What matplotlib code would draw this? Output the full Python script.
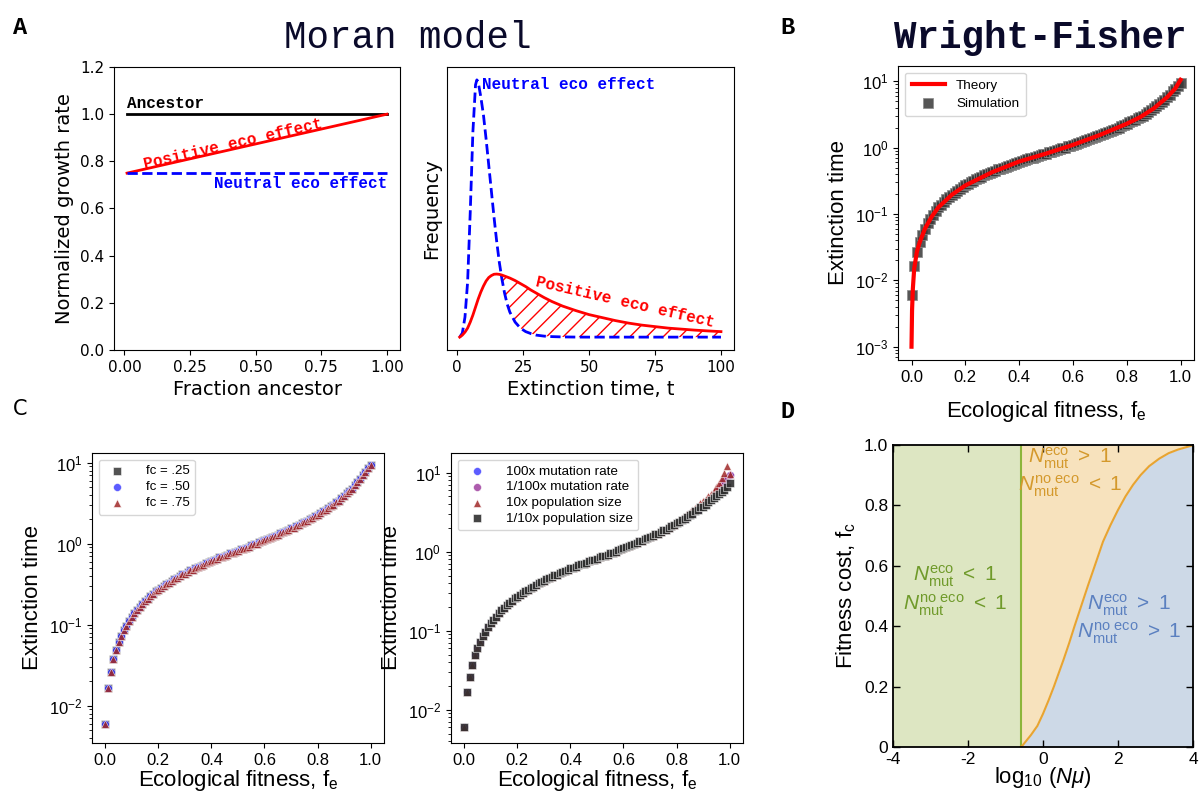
import numpy as np
import matplotlib
matplotlib.use("Agg")
import matplotlib.pyplot as plt

plt.rcParams['font.family'] = 'Liberation Sans'
plt.rcParams['mathtext.fontset'] = 'custom'
plt.rcParams['mathtext.rm'] = 'Liberation Sans'
plt.rcParams['mathtext.it'] = 'Liberation Sans:italic'
plt.rcParams['mathtext.bf'] = 'Liberation Sans:bold'
plt.rcParams['axes.unicode_minus'] = False
plt.rcParams['hatch.linewidth'] = 1.0

MONO = 'Liberation Mono'
DEJ = 'DejaVu Sans'

# ---- panel A, left: growth rate vs fraction ancestor
frac = [0.01, 1.0]
ancestor_rate = [1.0, 1.0]
positive_rate = [0.75, 1.0]
neutral_rate = [0.75, 0.75]

# ---- panel A, right: extinction time distributions
t_ext = [1, 2, 3, 4, 5, 6, 7, 7.5, 8, 9, 10, 11, 12, 13, 14, 15, 16, 17, 18, 19,
         20, 22, 24, 26, 28, 30, 33, 36, 40, 45, 50, 55, 60, 65, 70, 75, 80, 85,
         90, 95, 100]
freq_neutral = [0, 4, 20, 55, 125, 205, 252, 257, 255, 240, 222, 198, 172, 146,
                120, 96, 75, 58, 44, 33, 25, 15, 9, 5.5, 3.5, 2, 1, 0.5, 0.2,
                0.05, 0, 0, 0, 0, 0, 0, 0, 0, 0, 0, 0]
freq_positive = [0, 2, 5, 9, 15, 22, 30, 34, 38, 45, 51, 56, 59.5, 61.5, 62.8,
                 63, 62.7, 62, 61, 60, 59, 56.5, 53.5, 50.5, 47, 44, 39.5, 35.5,
                 31, 26.5, 22.5, 19.5, 16.5, 14, 12, 10.5, 9, 8, 7, 6.2, 5.5]

# ---- panel B: Wright-Fisher theory and simulation
fe_theory = [0.0, 0.002, 0.005, 0.01, 0.02, 0.03, 0.05, 0.075, 0.1, 0.15, 0.2,
             0.3, 0.4, 0.5, 0.6, 0.7, 0.8, 0.85, 0.9, 0.95, 0.98, 1.0]
time_theory = [0.001, 0.0035, 0.0075, 0.015, 0.027, 0.037, 0.06, 0.091, 0.126,
               0.195, 0.269, 0.427, 0.617, 0.813, 1.10, 1.55, 2.29, 2.88, 3.89,
               5.75, 7.76, 10.5]

fe = np.round(np.arange(0, 1.001, 0.01), 2)
ext_time = [
    0.0060, 0.0166, 0.0263, 0.0372, 0.0490, 0.0603, 0.0724, 0.0851, 0.0977, 0.112,
    0.126, 0.138, 0.151, 0.166, 0.182, 0.195, 0.209, 0.224, 0.240, 0.257,
    0.269, 0.282, 0.302, 0.316, 0.331, 0.347, 0.363, 0.380, 0.398, 0.417,
    0.427, 0.447, 0.468, 0.479, 0.501, 0.513, 0.537, 0.550, 0.575, 0.589,
    0.617, 0.631, 0.646, 0.676, 0.692, 0.708, 0.724, 0.759, 0.776, 0.794,
    0.813, 0.851, 0.871, 0.891, 0.912, 0.955, 0.977, 1.00, 1.05, 1.07,
    1.10, 1.15, 1.17, 1.20, 1.26, 1.29, 1.35, 1.38, 1.45, 1.48,
    1.55, 1.58, 1.66, 1.70, 1.78, 1.86, 1.91, 2.00, 2.09, 2.19,
    2.29, 2.40, 2.51, 2.63, 2.75, 2.88, 3.02, 3.24, 3.39, 3.63,
    3.89, 4.17, 4.47, 4.79, 5.25, 5.75, 6.31, 7.08, 7.76, 8.51,
    9.33]

# ---- panel C: varying parameters
big_pop_tail = [2.4, 2.5, 2.7, 2.8, 3.0, 3.2, 3.4, 3.55, 3.8, 4.1, 4.4, 4.7, 5.0,
                5.4, 5.9, 6.6, 7.4, 8.5, 10.0, 12.0, 9.5]          # fe 0.80 .. 1.00
small_pop_tail = [3.7, 3.9, 4.2, 4.5, 4.8, 5.1, 5.4, 5.7, 6.1, 6.6, 7.5]  # fe 0.90 .. 1.00
big_pop = ext_time[:80] + big_pop_tail
small_pop = ext_time[:90] + small_pop_tail

# ---- panel D: phase diagram
log_nmu = [-0.6, -0.54, -0.45, -0.32, -0.15, 0.0, 0.15, 0.29, 0.42, 0.55, 0.7,
           0.84, 1.0, 1.2, 1.38, 1.6, 1.8, 2.0, 2.2, 2.4, 2.6, 2.83, 3.1, 3.35,
           3.6, 3.88, 4.0]
fc_boundary = [0.0, 0.006, 0.02, 0.04, 0.07, 0.11, 0.155, 0.2, 0.245, 0.29,
               0.345, 0.40, 0.46, 0.535, 0.60, 0.68, 0.735, 0.785, 0.83, 0.868,
               0.90, 0.93, 0.955, 0.973, 0.985, 0.995, 1.0]
eco_threshold = -0.6

fig = plt.figure(figsize=(11.99, 7.92), dpi=100)

axA1 = fig.add_axes([0.0951, 0.5581, 0.2385, 0.3573])
axA2 = fig.add_axes([0.3725, 0.5581, 0.2397, 0.3573])
axB = fig.add_axes([0.749, 0.5455, 0.2469, 0.3712])
axC1 = fig.add_axes([0.0767, 0.0619, 0.2435, 0.3662])
axC2 = fig.add_axes([0.3761, 0.0619, 0.2435, 0.3662])
axD = fig.add_axes([0.7448, 0.0568, 0.2502, 0.3813])

# titles and panel letters
fig.text(0.340, 0.952, 'Moran model', family=MONO, fontsize=27, ha='center', va='center', color='#0a0a2a')
fig.text(0.868, 0.952, 'Wright-Fisher', family=MONO, fontsize=27, ha='center', va='center',
         color='#0a0a2a', fontweight='bold')
fig.text(0.017, 0.965, 'A', family=MONO, fontsize=17, fontweight='bold', ha='center', va='center')
fig.text(0.657, 0.965, 'B', family=MONO, fontsize=17, fontweight='bold', ha='center', va='center')
fig.text(0.017, 0.484, 'C', family=DEJ, fontsize=15, ha='center', va='center')
fig.text(0.657, 0.480, 'D', family=MONO, fontsize=17, fontweight='bold', ha='center', va='center')

# ---- A1
ax = axA1
ax.plot(frac, ancestor_rate, color='black', lw=2)
ax.plot(frac, positive_rate, color='red', lw=2)
ax.plot(frac, neutral_rate, color='blue', lw=2, ls='--')
ax.set_ylim(0, 1.2)
ax.set_yticks([0, 0.2, 0.4, 0.6, 0.8, 1.0, 1.2])
ax.set_xticks([0, 0.25, 0.5, 0.75, 1.0])
ax.text(0.01, 1.012, 'Ancestor', family=MONO, fontweight='bold', fontsize=11.5, ha='left', va='bottom')
ax.text(0.415, 0.872, 'Positive eco effect', family=MONO, fontweight='bold', fontsize=11.5,
        color='red', ha='center', va='center', rotation=13, rotation_mode='anchor')
ax.text(1.0, 0.737, 'Neutral eco effect', family=MONO, fontweight='bold', fontsize=11.5,
        color='blue', ha='right', va='top')
ax.set_xlabel('Fraction ancestor', family=DEJ, fontsize=14)
ax.set_ylabel('Normalized growth rate', family=DEJ, fontsize=14)
for lab in ax.get_xticklabels() + ax.get_yticklabels():
    lab.set_family(DEJ)
    lab.set_fontsize(11)

# ---- A2
ax = axA2
ax.plot(t_ext, freq_neutral, color='blue', lw=2, ls='--')
ax.plot(t_ext, freq_positive, color='red', lw=2)
fp = np.array(freq_positive)
fn = np.array(freq_neutral)
ax.fill_between(t_ext, fn, fp, where=fp >= fn, interpolate=True, facecolor='none',
                edgecolor='red', hatch='//', linewidth=0)
ax.set_yticks([])
ax.set_xticks([0, 25, 50, 75, 100])
ax.text(9.5, 252, 'Neutral eco effect', family=MONO, fontweight='bold', fontsize=11.5,
        color='blue', ha='left', va='center')
ax.text(63.5, 35, 'Positive eco effect', family=MONO, fontweight='bold', fontsize=11.5,
        color='red', ha='center', va='center', rotation=-13, rotation_mode='anchor')
ax.set_xlabel('Extinction time, t', family=DEJ, fontsize=14)
ax.set_ylabel('Frequency', family=DEJ, fontsize=14)
for lab in ax.get_xticklabels():
    lab.set_family(DEJ)
    lab.set_fontsize(11)

# ---- B
ax = axB
ax.scatter(fe, ext_time, marker='s', s=60, color='#383838', alpha=0.85,
           edgecolor='#8a8a8a', linewidth=0.6, label='Simulation', zorder=2)
ax.plot(fe_theory, time_theory, color='red', lw=3, label='Theory', zorder=3)
ax.set_yscale('log')
ax.set_ylim(10 ** -3.2, 10 ** 1.23)
ax.set_xticks([0, 0.2, 0.4, 0.6, 0.8, 1.0])
ax.tick_params(labelsize=12)
ax.set_xlabel('Ecological fitness, f$_\\mathregular{e}$', fontsize=16, labelpad=10)
ax.set_ylabel('Extinction time', fontsize=16)
h, l = ax.get_legend_handles_labels()
ax.legend(h[::-1], l[::-1], loc='upper left', fontsize=9.7, handlelength=2.5,
          labelspacing=0.4, borderpad=0.5)

# ---- C1
ax = axC1
ax.scatter(fe, ext_time, marker='s', s=32, color='#404040', alpha=0.9,
           edgecolor='white', linewidth=0.4, label='fc = .25')
ax.scatter(fe, ext_time, marker='o', s=32, color='#3333ff', alpha=0.8,
           edgecolor='white', linewidth=0.4, label='fc = .50')
ax.scatter(fe, ext_time, marker='^', s=32, color='#a02828', alpha=0.85,
           edgecolor='white', linewidth=0.4, label='fc = .75')
ax.set_yscale('log')
ax.set_ylim(10 ** -2.46, 10 ** 1.12)
ax.set_xticks([0, 0.2, 0.4, 0.6, 0.8, 1.0])
ax.tick_params(labelsize=12)
ax.set_xlabel('Ecological fitness, f$_\\mathregular{e}$', fontsize=16, labelpad=0)
ax.set_ylabel('Extinction time', fontsize=16)
ax.legend(loc='upper left', fontsize=9.5, labelspacing=0.3, scatterpoints=1, handletextpad=1.2)

# ---- C2
ax = axC2
ax.scatter(fe, ext_time, marker='o', s=32, color='#3333ff', alpha=0.8,
           edgecolor='white', linewidth=0.4, label='100x mutation rate')
ax.scatter(fe, ext_time, marker='o', s=32, color='#993399', alpha=0.8,
           edgecolor='white', linewidth=0.4, label='1/100x mutation rate')
ax.scatter(fe, big_pop, marker='^', s=32, color='#a02828', alpha=0.85,
           edgecolor='white', linewidth=0.4, label='10x population size')
ax.scatter(fe, small_pop, marker='s', s=32, color='#303030', alpha=0.9,
           edgecolor='white', linewidth=0.4, label='1/10x population size')
ax.set_yscale('log')
ax.set_ylim(10 ** -2.42, 10 ** 1.25)
ax.set_xticks([0, 0.2, 0.4, 0.6, 0.8, 1.0])
ax.tick_params(labelsize=12)
ax.set_xlabel('Ecological fitness, f$_\\mathregular{e}$', fontsize=16, labelpad=0)
ax.set_ylabel('Extinction time', fontsize=16)
ax.legend(loc='upper left', fontsize=9.7, labelspacing=0.25, scatterpoints=1, handletextpad=1.2)

# ---- D
ax = axD
green_fill, orange_fill, blue_fill = '#dde6c2', '#f7e2bd', '#cdd9e7'
green_line, orange_line = '#8db53a', '#e8a431'
ax.axvspan(-4, eco_threshold, color=green_fill, lw=0)
ax.fill_between(log_nmu, fc_boundary, 1, color=orange_fill, lw=0)
ax.fill_between(log_nmu, 0, fc_boundary, color=blue_fill, lw=0)
ax.axvline(eco_threshold, color=green_line, lw=1.5)
ax.plot(log_nmu, fc_boundary, color=orange_line, lw=1.5)
ax.set_xlim(-4, 4)
ax.set_ylim(0, 1)
ax.set_xticks([-4, -2, 0, 2, 4])
ax.set_yticks([0, 0.2, 0.4, 0.6, 0.8, 1.0])
ax.set_yticklabels(['0', '0.2', '0.4', '0.6', '0.8', '1.0'])
ax.tick_params(direction='in', top=True, right=True, length=5, labelsize=12.5, width=1)
for s in ax.spines.values():
    s.set_linewidth(1.3)
ax.set_xlabel('log$_{10}$ ($N\\mu$)', fontsize=16, labelpad=-1)
ax.set_ylabel('Fitness cost, f$_\\mathregular{c}$', fontsize=16)
tcol_g, tcol_o, tcol_b = '#6f9a2a', '#d4992c', '#5b80c0'
fs_d = 15
ax.text(-2.35, 0.565, '$N_{\\rm mut}^{\\rm eco}\\ <\\ 1$', color=tcol_g, fontsize=fs_d, ha='center', va='center')
ax.text(-2.35, 0.47, '$N_{\\rm mut}^{\\rm no\\ eco}\\ <\\ 1$', color=tcol_g, fontsize=fs_d, ha='center', va='center')
ax.text(0.72, 0.957, '$N_{\\rm mut}^{\\rm eco}\\ >\\ 1$', color=tcol_o, fontsize=fs_d, ha='center', va='center')
ax.text(0.72, 0.862, '$N_{\\rm mut}^{\\rm no\\ eco}\\ <\\ 1$', color=tcol_o, fontsize=fs_d, ha='center', va='center')
ax.text(2.3, 0.47, '$N_{\\rm mut}^{\\rm eco}\\ >\\ 1$', color=tcol_b, fontsize=fs_d, ha='center', va='center')
ax.text(2.3, 0.377, '$N_{\\rm mut}^{\\rm no\\ eco}\\ >\\ 1$', color=tcol_b, fontsize=fs_d, ha='center', va='center')

fig.savefig('out.png', dpi=100)
